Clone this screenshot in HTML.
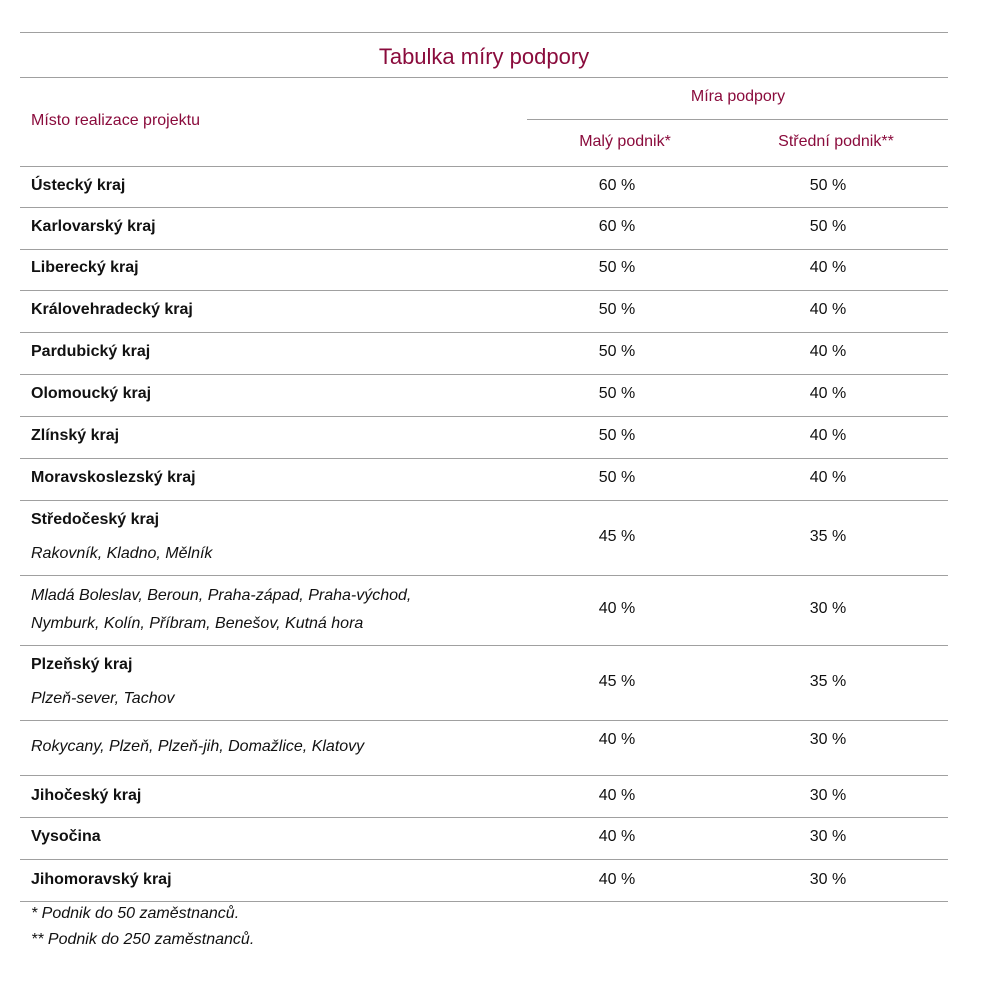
<!DOCTYPE html>
<html><head><meta charset="utf-8"><style>
body{margin:0;width:982px;height:985px;background:#fff;position:relative;font-family:"Liberation Sans",sans-serif;color:#111;overflow:hidden}
.l{position:absolute;height:1px;background:#a0a0a0}
.t{position:absolute;line-height:20px;height:20px;white-space:nowrap;font-size:16px}
.r{color:#8a0b3c}
.b{font-weight:bold}
.i{font-style:italic}
.c{transform:translateX(-50%)}
</style></head><body>
<div class="t r c" style="left:484px;top:45px;font-size:22px;line-height:24px">Tabulka míry podpory</div>
<div class="t r" style="left:31px;top:111px">Místo realizace projektu</div>
<div class="t r c" style="left:738px;top:87px">Míra podpory</div>
<div class="t r c" style="left:625px;top:132px">Malý podnik*</div>
<div class="t r c" style="left:836px;top:132px">Střední podnik**</div>
<div id="lines"></div>
<div id="rows"></div>
<div class="t i" style="left:31px;top:904px">* Podnik do 50 zaměstnanců.</div>
<div class="t i" style="left:31px;top:930px">** Podnik do 250 zaměstnanců.</div>
<script>
const lineYs=[32,77,166,207,249,290,332,374,416,458,500,575,645,720,775,817,859,901];
const labels=[["Ústecký kraj","b",186],["Karlovarský kraj","b",227],["Liberecký kraj","b",268],["Královehradecký kraj","b",310],["Pardubický kraj","b",352],["Olomoucký kraj","b",394],["Zlínský kraj","b",436],["Moravskoslezský kraj","b",478],["Středočeský kraj","b",520],["Rakovník, Kladno, Mělník","i",554],["Mladá Boleslav, Beroun, Praha-západ, Praha-východ,","i",596],["Nymburk, Kolín, Příbram, Benešov, Kutná hora","i",624],["Plzeňský kraj","b",665],["Plzeň-sever, Tachov","i",699],["Rokycany, Plzeň, Plzeň-jih, Domažlice, Klatovy","i",747],["Jihočeský kraj","b",796],["Vysočina","b",837],["Jihomoravský kraj","b",880]];
const valueY=[186,227,268,310,352,394,436,478,537,609,682,740,796,837,880];
const small=[60,60,50,50,50,50,50,50,45,40,45,40,40,40,40];
const medium=[50,50,40,40,40,40,40,40,35,30,35,30,30,30,30];
const L=document.getElementById('lines'),R=document.getElementById('rows');
lineYs.forEach(y=>{const d=document.createElement('div');d.className='l';d.style.cssText=`left:20px;width:928px;top:${y}px`;


L.appendChild(d);});
{const d=document.createElement('div');d.className='l';d.style.cssText='left:527px;width:421px;top:119px';


L.appendChild(d);}
labels.forEach(([txt,cls,y])=>{const d=document.createElement('div');d.className='t '+cls;d.style.cssText=`left:31px;top:${y-10}px`;d.textContent=txt;


R.appendChild(d);});
valueY.forEach((y,i)=>{
const a=document.createElement('div');a.className='t c';a.style.cssText=`left:617px;top:${y-10}px`;a.textContent=small[i]+' %';


R.appendChild(a);
const b=document.createElement('div');b.className='t c';b.style.cssText=`left:828px;top:${y-10}px`;b.textContent=medium[i]+' %';


R.appendChild(b);});
</script>
</body></html>
